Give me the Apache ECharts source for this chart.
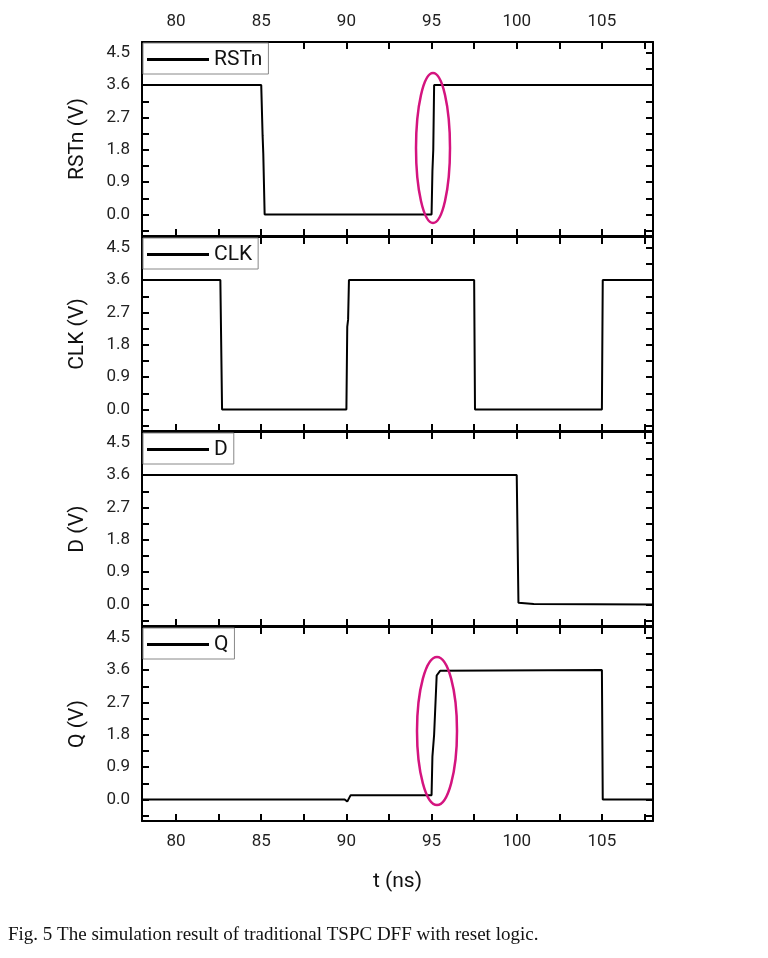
<!DOCTYPE html>
<html><head><meta charset="utf-8">
<script src="https://cdn.jsdelivr.net/npm/echarts@6/dist/echarts.min.js"></script>
<style>body{margin:0;background:#fff}#c{width:768px;height:958px}</style>
</head><body><div id="c"></div>
<script>
var names = ['RSTn', 'CLK', 'D', 'Q'];
var rstn = [[78, 3.6], [85, 3.6], [85.08, 2.2], [85.12, 1.7], [85.2, 0], [95, 0], [95.05, 1.2], [95.1, 1.8], [95.15, 3.6], [108, 3.6]];
var clk = [[78, 3.6], [82.6, 3.6], [82.7, 0], [90, 0], [90.05, 2.3], [90.1, 2.5], [90.15, 3.6], [97.5, 3.6], [97.55, 0], [105, 0], [105.05, 3.6], [108, 3.6]];
var d = [[78, 3.6], [100, 3.6], [100.1, 0.05], [101, 0.01], [108, 0]];
var q = [[78, 0], [89.9, 0], [90.05, -0.06], [90.25, 0.12], [95, 0.12], [95.05, 1.2], [95.15, 1.8], [95.3, 3.45], [95.5, 3.58], [105, 3.6], [105.05, 0], [108, 0]];
var waves = [rstn, clk, d, q];
var xTicks = [80, 85, 90, 95, 100, 105];
var xMinor = [80, 82.5, 85, 87.5, 90, 92.5, 95, 97.5, 100, 102.5, 105, 107.5];
var yTicks = [0, 0.9, 1.8, 2.7, 3.6, 4.5];
var yMinor = [-0.45, 0, 0.45, 0.9, 1.35, 1.8, 2.25, 2.7, 3.15, 3.6, 4.05, 4.5];

var font = 'Roboto';
var tops = [42, 237, 432, 627];
var grid = [], xAxis = [], yAxis = [], series = [], legend = [];
function xa(i, pos, showLabel) {
    return {
        type: 'value', gridIndex: i, min: 78, max: 108, position: pos,
        axisLine: { onZero: false, lineStyle: { color: '#000', width: 2 } },
        axisTick: { inside: true, length: 7, customValues: xMinor, lineStyle: { color: '#000', width: 2 } },
        splitLine: { show: false },
        axisLabel: { show: showLabel, customValues: xTicks, color: '#222', fontSize: 17, fontFamily: font, margin: 12 }
    };
}
function ya(i, pos, showLabel) {
    return {
        type: 'value', gridIndex: i, min: -0.6, max: 4.8, position: pos,
        axisLine: { show: true, onZero: false, lineStyle: { color: '#000', width: 2 } },
        axisTick: { show: true, inside: true, length: 7, customValues: yMinor, lineStyle: { color: '#000', width: 2 } },
        splitLine: { show: false },
        axisLabel: {
            show: showLabel, customValues: yTicks, color: '#222', fontSize: 17, fontFamily: font, margin: 12,
            formatter: function (v) { return (+v).toFixed(1); }
        }
    };
}
tops.forEach(function (t, i) {
    grid.push({ left: 142, width: 511, top: t, height: 194 });
    var bottom = xa(i, 'bottom', i === 3);
    if (i === 3) {
        bottom.name = 't (ns)'; bottom.nameLocation = 'middle'; bottom.nameGap = 50;
        bottom.nameTextStyle = { fontSize: 21, fontFamily: font, color: '#111' };
    }
    xAxis.push(bottom, xa(i, 'top', i === 0));
    var yb = ya(i, 'left', true);
    yb.name = names[i] + ' (V)'; yb.nameLocation = 'middle'; yb.nameGap = 54;
    yb.nameTextStyle = { fontSize: 21, fontFamily: font, color: '#111' };
    yAxis.push(yb, ya(i, 'right', false));
    series.push({
        name: names[i], type: 'line', xAxisIndex: 2 * i, yAxisIndex: 2 * i,
        data: waves[i], showSymbol: false, symbol: 'none',
        lineStyle: { color: '#000', width: 2 }, itemStyle: { color: '#000' }
    });
    legend.push({
        data: [names[i]], left: 143, top: t + 1, orient: 'vertical',
        borderColor: '#888', borderWidth: 1, backgroundColor: '#fff', padding: [6, 6, 4, 4],
        itemWidth: 62, itemHeight: 3, icon: 'rect', itemGap: 0,
        textStyle: { fontSize: 21, fontFamily: font, color: '#111' }
    });
});

var chart = echarts.init(document.getElementById('c'));
chart.setOption({
    animation: false,
    grid: grid, xAxis: xAxis, yAxis: yAxis, series: series, legend: legend,
    graphic: [
        { type: 'ellipse', shape: { cx: 433, cy: 148, rx: 17, ry: 75 }, style: { fill: 'none', stroke: '#d4147f', lineWidth: 2.5 }, z: 100 },
        { type: 'ellipse', shape: { cx: 437, cy: 731, rx: 20, ry: 74 }, style: { fill: 'none', stroke: '#d4147f', lineWidth: 2.5 }, z: 100 },
        { type: 'text', left: 8, top: 926, style: { text: 'Fig. 5 The simulation result of traditional TSPC DFF with reset logic.', fontSize: 19, fontFamily: 'Liberation Serif', fill: '#111' } }
    ]
});
</script></body></html>
